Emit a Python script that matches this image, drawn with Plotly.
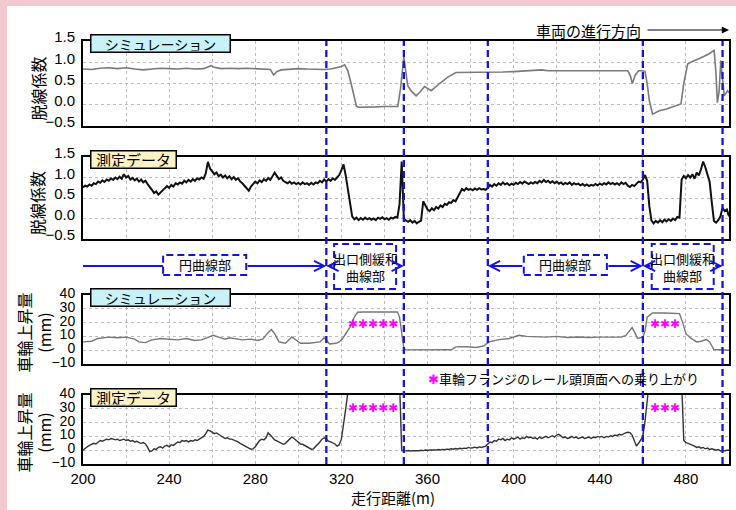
import plotly.graph_objects as go

W, H = 736, 510

# ---------------- data ----------------
sections = [313, 349, 388, 460, 497]          # section boundaries (m)

sim_dc_x = [200, 204, 208, 212, 216, 220, 224, 228, 232, 236, 240, 244, 248, 252, 256, 258, 259.5, 261, 264,
            268, 272, 276, 280, 284, 287, 288.5, 290, 292, 296, 300, 304, 308, 312, 315, 318, 320, 321.5, 323,
            324.5, 326, 327, 328, 332, 336, 340, 344, 346.2, 347.5, 349, 350.8, 352.5, 354.7, 356.5, 358.6,
            361.7, 365.6, 369.4, 373.2, 376, 380, 385, 390, 395, 400, 405, 410, 413, 416, 420, 425, 430, 435,
            440, 445, 450, 453, 454.2, 455.1, 456.5, 458, 460, 461, 462, 463, 464.5, 467.6, 471, 475.3, 477.7,
            479, 480.8, 483, 486.2, 488.5, 490.8, 493.1, 494, 494.6, 495.4, 496.2, 497, 497.8, 499.3, 500]
sim_dc_y = [0.84, 0.83, 0.86, 0.87, 0.85, 0.87, 0.84, 0.82, 0.84, 0.86, 0.85, 0.84, 0.86, 0.84, 0.85, 0.88, 0.92,
            0.88, 0.85, 0.86, 0.85, 0.86, 0.85, 0.84, 0.83, 0.70, 0.78, 0.82, 0.84, 0.85, 0.84, 0.83, 0.83, 0.84,
            0.87, 0.90, 0.94, 0.80, 0.50, 0.15, -0.04, -0.06, -0.06, -0.05, -0.04, -0.05, -0.04, 0.40, 1.12,
            0.45, 0.32, 0.21, 0.30, 0.43, 0.33, 0.50, 0.65, 0.76, 0.76, 0.76, 0.76, 0.76, 0.77, 0.78, 0.79, 0.81,
            0.82, 0.80, 0.80, 0.79, 0.80, 0.79, 0.80, 0.79, 0.80, 0.80, 0.68, 0.50, 0.70, 0.80, 0.80, 0.78, 0.50,
            0.10, -0.22, -0.14, -0.10, -0.02, 0.02, 0.50, 0.96, 1.02, 1.08, 1.14, 1.20, 1.28, 0.70, 0.05, 0.30,
            1.04, 0.60, 0.21, 0.33, 0.28]

meas_dc = [
    0.76, 0.80, 0.78, 0.83, 0.80, 0.86, 0.84, 0.90, 0.87, 0.93,
    0.89, 0.95, 0.92, 0.98, 0.94, 1.00, 0.96, 1.02, 0.97, 1.08,
    1.00, 1.04, 0.95, 0.99, 0.93, 0.97, 0.90, 0.95, 0.88, 0.92,
    0.84, 0.78, 0.70, 0.62, 0.66, 0.58, 0.64, 0.70, 0.74, 0.79,
    0.75, 0.82, 0.78, 0.86, 0.83, 0.88, 0.85, 0.92, 0.88, 0.94,
    0.90, 0.96, 0.92, 0.98, 0.95, 1.00, 0.97, 1.10, 1.38, 1.22,
    1.15, 1.08, 1.12, 1.03, 1.07, 1.00, 1.05, 0.98, 1.03, 0.96,
    1.01, 0.94, 0.98, 0.90, 0.86, 0.80, 0.72, 0.68, 0.78, 0.85,
    0.90, 0.86, 0.93, 0.89, 0.96, 0.92, 0.99, 0.94, 1.02, 1.12,
    1.04, 0.96, 1.00, 0.92, 0.89, 0.86, 0.90, 0.85, 0.88, 0.84,
    0.87, 0.83, 0.88, 0.84, 0.86, 0.82, 0.87, 0.83, 0.88, 0.86,
    0.92, 0.88, 0.95, 0.90, 0.96, 0.92, 0.98, 0.94, 1.00, 1.06,
    1.18, 1.32, 1.05, 0.70, 0.30, 0.05, -0.02, 0.02, -0.04, 0.01,
    -0.03, 0.02, -0.02, 0.01, -0.03, 0.00, -0.04, 0.02, -0.01, 0.03,
    -0.02, 0.01, -0.03, 0.02, 0.00, 0.04, 0.02, 0.35, 1.39, 0.00,
    -0.05, -0.08, -0.04, -0.10, -0.06, -0.12, -0.08, -0.05, 0.42, 0.30,
    0.22, 0.18, 0.25, 0.20, 0.28, 0.24, 0.32, 0.28, 0.36, 0.33,
    0.40, 0.38, 0.45, 0.42, 0.52, 0.62, 0.72, 0.68, 0.74, 0.70,
    0.72, 0.69, 0.73, 0.70, 0.74, 0.71, 0.72, 0.70, 0.74, 0.82,
    0.78, 0.84, 0.80, 0.86, 0.82, 0.88, 0.83, 0.86, 0.81, 0.85,
    0.82, 0.87, 0.84, 0.89, 0.85, 0.90, 0.86, 0.84, 0.88, 0.85,
    0.89, 0.86, 0.92, 0.88, 0.94, 0.89, 0.92, 0.87, 0.91, 0.86,
    0.90, 0.85, 0.88, 0.83, 0.87, 0.84, 0.88, 0.82, 0.86, 0.83,
    0.85, 0.81, 0.84, 0.80, 0.83, 0.79, 0.82, 0.80, 0.84, 0.81,
    0.85, 0.82, 0.86, 0.83, 0.88, 0.84, 0.87, 0.83, 0.86, 0.82,
    0.88, 0.84, 0.87, 0.80, 0.77, 0.82, 0.79, 0.85, 0.90, 0.88,
    0.95, 1.06, 0.92, 0.30, -0.05, -0.12, -0.06, -0.10, -0.04, -0.09,
    -0.03, -0.07, -0.02, -0.06, 0.00, -0.04, 0.04, 0.02, 0.95, 1.04,
    0.98, 1.06, 1.00, 1.08, 0.97, 1.12, 1.05, 1.20, 1.39, 1.25,
    1.10, 0.90, 0.40, -0.06, -0.10, -0.04, 0.05, 0.26, 0.18, 0.22,
    0.05]

sim_lift_x = [200, 204, 207, 212, 216, 220, 224, 226, 229, 232, 236, 240, 244, 248, 252, 255, 258, 260.5, 263,
              266, 268, 271, 274, 278, 281, 283.5, 285.5, 287.5, 289, 291, 294, 297, 299, 301, 305, 308, 310,
              312, 314.5, 317.5, 319, 320.6, 322.5, 324.5, 326, 327.5, 330, 346, 347, 348, 349, 350, 360, 371,
              373.2, 378, 382.5, 386, 388.6, 393.3, 398, 402.5, 406, 410, 415, 420, 425, 430, 435, 440, 445,
              450, 452, 455, 456.5, 457.5, 460, 461, 462, 464.5, 470, 477, 478.5, 480, 482, 485, 487, 489.5,
              491, 493, 500]
sim_lift_y = [6, 6.5, 8.5, 9.5, 9, 9.5, 8, 6, 5.5, 7.5, 8.5, 8, 7.5, 8.5, 7, 7.5, 9.5, 10.8, 9.5, 8, 9, 8.5,
              7.5, 8, 7, 8, 12, 15, 12, 6, 5, 9.6, 7, 5, 5, 5.5, 6, 9, 4.5, 5, 6, 8.5, 13, 18, 24, 27.5, 27.7,
              27.7, 24, 12, 1.2, 0.2, 0.2, 0.3, 2.4, 2.5, 2, 3, 6, 7.7, 8.5, 10.8, 10, 9.8, 9.5, 10, 9.2, 9.6,
              9.2, 9.5, 9.4, 9.6, 10.5, 16.4, 12, 8.5, 9.5, 14, 24, 27, 27, 26.5, 20, 12, 9, 6, 6.5, 7.7, 6,
              0.5, 0]

meas_lift = [
    0, 1.5, 2.5, 3.5, 4.5, 5, 4.5, 6, 7, 6.5,
    7.5, 8, 7.5, 8.5, 8, 7.5, 8, 7, 7.5, 8,
    7, 7.5, 6.5, 7, 6, 6.5, 5.5, 5, 5.5, 4.5,
    2, -1, -0.5, 1, 0.5, 2, 2.5, 1.5, 3, 3.5,
    2.5, 4, 3.5, 5, 6, 5.5, 7, 6.5, 7, 6,
    7, 6.5, 7.5, 7, 8, 8.5, 10, 12, 14.5, 14,
    13, 12, 12.5, 11.5, 10, 9.5, 8.5, 9, 8, 8,
    7.5, 6.5, 6, 5, 4, 3.5, 2.5, 1.5, 0.7, 1,
    2.5, 4.5, 7, 8, 7.5, 9, 12.7, 11, 9, 7.5,
    6.7, 6, 5, 4.3, 5, 6.5, 8, 9.6, 8.5, 7,
    5.5, 4.5, 4.3, 3.5, 2.5, 1.5, 0.7, 1, 2.5, 4,
    6, 8, 9, 8, 6.5, 6, 5.5, 4.5, 3, 4,
    8, 18, 30, 42, 50, 50, 50, 50, 50, 50,
    50, 50, 50, 50, 50, 50, 50, 50, 50, 50,
    50, 50, 50, 50, 50, 50, 50, 50, -0.3, -0.5,
    -0.5, -0.2, -0.6, -0.3, -0.5, -0.2, -0.4, 0, -0.3, 0.1,
    -0.2, 0.2, 0, 0.3, 0.1, 0.5, 0.2, 0.6, 0.4, 0.8,
    0.5, 1, 0.7, 1.2, 0.9, 1.4, 1.1, 1.5, 1.3, 2,
    1.5, 1.8, 2.2, 1.6, 2.4, 2, 2.6, 3, 4.5, 6,
    5.5, 7, 6.5, 8, 7.5, 8.5, 7, 8, 7.5, 9,
    8, 8.5, 9.5, 8, 9, 8.5, 10, 9, 9.5, 8.5,
    9, 8, 9.5, 8.5, 9, 10, 9, 9.5, 10.5, 9.5,
    11, 11.5, 10, 9, 9.5, 8.5, 9, 10, 9, 9.5,
    8.5, 9, 9.5, 8.5, 9, 9.5, 8.5, 9.5, 9, 10,
    9.5, 10, 9, 10, 9.5, 10.5, 10, 11, 10.5, 11.5,
    11, 12, 12.5, 13, 12.8, 11, 7, 3, 5, 8,
    10, 21, 50, 50, 50, 50, 50, 50, 50, 50,
    50, 50, 50, 50, 50, 50, 50, 50, 50, 7,
    5.5, 5, 4.5, 4, 3, 2, 2.5, 1.5, 2, 1,
    1.5, 0.5, 1, 0.5, 0, 0.5, -0.5, 0, -0.5, 0,
    0]

meas_x = list(range(200, 200 + len(meas_dc)))
meas_lift_x = list(range(200, 200 + len(meas_lift)))

x_grid_vals = [200, 220, 240, 260, 280, 300, 320, 340, 360, 380, 400, 420, 440, 460, 480]
x_grid_text = ['200', '', '240', '', '280', '', '320', '', '360', '', '400', '', '440', '', '480']
dc_tick_vals = [-0.5, 0.0, 0.5, 1.0, 1.5]
dc_tick_text = ['\u22120.5', '0.0', '0.5', '1.0', '1.5']
lift_tick_vals = [-10, 0, 10, 20, 30, 40]
lift_tick_text = ['\u221210', '0', '10', '20', '30', '40']

section_labels = ['円曲線部', '出口側緩和<br>曲線部', '円曲線部', '出口側緩和<br>曲線部']
section_starts = [200, 313, 388, 460]
section_ends = [313, 349, 460, 497]
label_halfwidth = [19.3, 14.4, 19.3, 14.4]   # box half widths (m)
rise_marks = ['✱✱✱✱✱', '✱✱✱']
rise_mark_x = [334.7, 470.3]

# ---------------- layout helpers ----------------
def px_x(p):
    return p / W

def px_y(p):
    return 1 - p / H

XD = [px_x(83), px_x(729)]
panels = {
    1: [px_y(126), px_y(41)],
    2: [px_y(239), px_y(157)],
    3: [px_y(364), px_y(295)],
    4: [px_y(464), px_y(395)],
}

BLUE = '#1414e0'
JP = 'Noto Sans CJK JP'
LAT = 'Liberation Sans'

fig = go.Figure()
fig.add_trace(go.Scatter(x=sim_dc_x, y=sim_dc_y, mode='lines', line=dict(color='#7a7a7a', width=1.6),
                         xaxis='x', yaxis='y', showlegend=False))
fig.add_trace(go.Scatter(x=meas_x, y=meas_dc, mode='lines', line=dict(color='#111111', width=2.0),
                         xaxis='x2', yaxis='y2', showlegend=False))
fig.add_trace(go.Scatter(x=sim_lift_x, y=sim_lift_y, mode='lines', line=dict(color='#777777', width=1.4),
                         xaxis='x3', yaxis='y3', showlegend=False))
fig.add_trace(go.Scatter(x=meas_lift_x, y=meas_lift, mode='lines', line=dict(color='#333333', width=1.4),
                         xaxis='x4', yaxis='y4', showlegend=False))

axis_common = dict(showline=True, mirror=True, linecolor='black', linewidth=2, showgrid=True,
                   gridcolor='#bdbdbd', griddash='dot', gridwidth=1, zeroline=False, ticks='',
                   automargin=False)
layout = dict(width=W, height=H, margin=dict(l=0, r=0, t=0, b=0, pad=0, autoexpand=False),
              paper_bgcolor='white', plot_bgcolor='white', showlegend=False)
for i in range(1, 5):
    sx = '' if i == 1 else str(i)
    xa = dict(axis_common, domain=XD, range=[200, 500], anchor='y' + sx, tickvals=x_grid_vals,
              ticktext=x_grid_text, showticklabels=(i == 4),
              tickfont=dict(family=LAT, size=15, color='black'))
    if i == 4:
        xa['ticklabelstandoff'] = 0
    if i > 1:
        xa['matches'] = 'x'
    if i <= 2:
        ya = dict(axis_common, domain=panels[i], range=[-0.5, 1.5], tickvals=dc_tick_vals, ticktext=dc_tick_text,
                  tickfont=dict(family=LAT, size=15, color='black'), ticklabelshift=-4)
    else:
        ya = dict(axis_common, domain=panels[i], range=[-10, 40], tickvals=lift_tick_vals, ticktext=lift_tick_text,
                  tickfont=dict(family=LAT, size=14, color='black'), ticklabelshift=-2)
    ya.update(anchor='x' + sx, ticklabelstandoff=3)
    layout['xaxis' + sx] = xa
    layout['yaxis' + sx] = ya
fig.update_layout(**layout)

shapes = []
# pink frame at top and left
shapes.append(dict(type='rect', xref='paper', yref='paper', x0=0, x1=1, y0=px_y(6), y1=1,
                   fillcolor='#f3c8d1', line=dict(width=0), layer='below'))
shapes.append(dict(type='rect', xref='paper', yref='paper', x0=0, x1=px_x(7), y0=0, y1=1,
                   fillcolor='#f3c8d1', line=dict(width=0), layer='below'))
# section boundary dashed lines
for s in sections:
    shapes.append(dict(type='line', xref='x', yref='paper', x0=s, x1=s, y0=panels[4][0], y1=panels[1][1],
                       line=dict(color=BLUE, width=2.3, dash='7px,4px'), layer='above'))

ann = []
band_y = px_y(266)
for k, lab in enumerate(section_labels):
    c = (section_starts[k] + section_ends[k]) / 2
    hw = label_halfwidth[k]
    two = '<br>' in lab
    y0b, y1b = (px_y(289), px_y(244)) if two else (px_y(275), px_y(255))
    shapes.append(dict(type='rect', xref='x', yref='paper', x0=c - hw, x1=c + hw, y0=y0b, y1=y1b,
                       line=dict(color=BLUE, width=2, dash='7px,4px'), fillcolor='rgba(0,0,0,0)'))
    ann.append(dict(xref='x', yref='paper', x=c, y=(y0b + y1b) / 2, xanchor='center', yanchor='middle',
                    text=lab, showarrow=False, font=dict(family=JP, size=13, color='black'), align='center'))
    # left part
    if k == 0:
        shapes.append(dict(type='line', xref='x', yref='paper', x0=section_starts[k], x1=c - hw,
                           y0=band_y, y1=band_y, line=dict(color=BLUE, width=1.8)))
    else:
        ann.append(dict(xref='x', yref='paper', x=section_starts[k], y=band_y, text='', showarrow=True,
                        axref='x', ax=c - hw, ayref='pixel', ay=0, arrowhead=5, arrowsize=1.1,
                        arrowwidth=1.8, arrowcolor=BLUE))
    ann.append(dict(xref='x', yref='paper', x=section_ends[k], y=band_y, text='', showarrow=True,
                    axref='x', ax=c + hw, ayref='pixel', ay=0, arrowhead=5, arrowsize=1.1,
                    arrowwidth=1.8, arrowcolor=BLUE))

# panel label boxes
for i in range(1, 5):
    is_sim = i in (1, 3)
    ann.append(dict(xref='paper', yref='paper', x=px_x(90), xanchor='left', y=panels[i][1] - 2 / H,
                    yanchor='middle', text='シミュレーション' if is_sim else '測定データ', showarrow=False,
                    font=dict(family=JP, size=14 if is_sim else 15, color='black'),
                    bgcolor='#c8f2f6' if is_sim else '#fbf2c6', bordercolor='black', borderwidth=1.5,
                    borderpad=1, width=136 if is_sim else 82, height=14, align='center'))

# y-axis titles
for i in (1, 2):
    ann.append(dict(xref='paper', yref='paper', x=px_x(37), y=sum(panels[i]) / 2 - 5 / H,
                    xanchor='center', yanchor='middle', text='脱線係数', textangle=-90, showarrow=False,
                    font=dict(family=JP, size=16, color='black')))
for i in (3, 4):
    ann.append(dict(xref='paper', yref='paper', x=px_x(34), y=sum(panels[i]) / 2 - 3 / H,
                    xanchor='center', yanchor='middle', text='車輪上昇量<br>(mm)', textangle=-90,
                    showarrow=False, font=dict(family=JP, size=16, color='black'), align='center'))

# x title
ann.append(dict(xref='paper', yref='paper', x=px_x(393), y=px_y(497), xanchor='center', yanchor='middle',
                text='走行距離(m)', showarrow=False, font=dict(family=JP, size=15, color='black')))

# direction of travel
ann.append(dict(xref='paper', yref='paper', x=px_x(643), xanchor='right', y=px_y(30), yanchor='middle',
                text='車両の進行方向', showarrow=False, font=dict(family=JP, size=15, color='black')))
ann.append(dict(xref='paper', yref='paper', x=px_x(729), y=px_y(30), text='', showarrow=True,
                axref='pixel', ax=-83, ayref='pixel', ay=0, arrowhead=2, arrowsize=1.2, arrowwidth=1.2,
                arrowcolor='black'))

# rise marks (wheel flange climbing)
for j, m in enumerate(rise_marks):
    ann.append(dict(xref='x3', yref='y3', x=rise_mark_x[j], y=19, text=m, showarrow=False,
                    font=dict(family='DejaVu Sans', size=12, color='#ff00ff')))
    ann.append(dict(xref='x4', yref='y4', x=rise_mark_x[j], y=30.5, text=m, showarrow=False,
                    font=dict(family='DejaVu Sans', size=12, color='#ff00ff')))

ann.append(dict(xref='paper', yref='paper', x=px_x(426), xanchor='left', y=px_y(378), yanchor='middle',
                text='<span style="color:#ff00ff">✱</span>車輪フランジのレール頭頂面への乗り上がり',
                showarrow=False, font=dict(family=JP, size=13, color='black')))

fig.update_layout(shapes=shapes, annotations=ann)
fig.write_html('out.html', config={'displayModeBar': False},
               post_script="document.body.style.margin='0px';")
